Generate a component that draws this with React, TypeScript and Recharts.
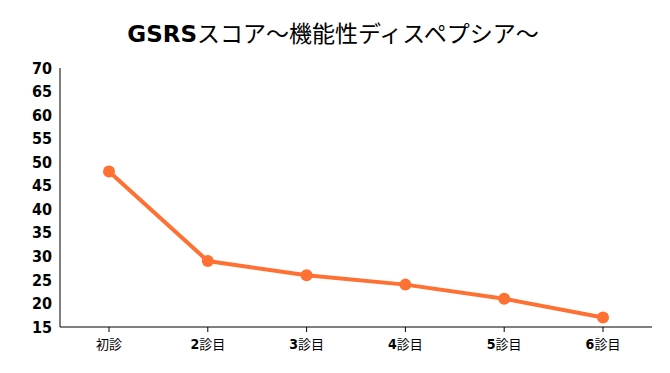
import { LineChart, Line, XAxis, YAxis } from "recharts";

const visits = ["初診", "2診目", "3診目", "4診目", "5診目", "6診目"];
const scores = [48, 29, 26, 24, 21, 17];
const yTicks = [15, 20, 25, 30, 35, 40, 45, 50, 55, 60, 65, 70];

const data = visits.map((name, i) => ({ name, score: scores[i] }));

const narrow = "DejaVu Sans Condensed, Liberation Sans Narrow, sans-serif";

const XTick = (props: any) => {
  const { x, y, payload } = props;
  const label: string = payload.value;
  const m = label.match(/^(\d)(.*)$/);
  return (
    <text x={x} y={y} dy={15} textAnchor="middle" fontSize={13} fill="#000">
      {m ? (
        <>
          <tspan fontFamily={narrow} fontWeight="bold" fontSize={14}>
            {m[1]}
          </tspan>
          <tspan fontFamily="Noto Sans CJK JP">{m[2]}</tspan>
        </>
      ) : (
        <tspan fontFamily="Noto Sans CJK JP">{label}</tspan>
      )}
    </text>
  );
};

export default function App() {
  return (
    <div style={{ position: "absolute", left: 0, top: 0, width: 670, height: 373, background: "#fff" }}>
      <div
        style={{
          position: "absolute",
          top: 17,
          left: 0,
          width: 666,
          textAlign: "center",
          fontSize: 23,
          color: "#000",
          lineHeight: "30px",
        }}
      >
        <span style={{ fontFamily: "DejaVu Sans", fontWeight: 900 }}>GSRS</span>
        <span style={{ fontFamily: "Noto Sans CJK JP" }}>スコア〜機能性ディスペプシア〜</span>
      </div>
      <LineChart
        width={670}
        height={373}
        data={data}
        margin={{ top: 68, right: 18, bottom: 16, left: 0 }}
      >
        <XAxis
          dataKey="name"
          tick={<XTick />}
          tickSize={5}
          tickMargin={2}
          padding={{ left: 49, right: 49 }}
          axisLine={{ stroke: "#000" }}
          tickLine={{ stroke: "#000" }}
          height={30}
        />
        <YAxis
          domain={[15, 70]}
          ticks={yTicks}
          interval={0}
          width={60}
          tickLine={false}
          axisLine={{ stroke: "#000" }}
          tick={{
            fill: "#000",
            fontSize: 16,
            fontWeight: "bold",
            fontFamily: narrow,
          }}
          allowDataOverflow
        />
        <Line
          dataKey="score"
          stroke="#FF7033"
          strokeWidth={4}
          dot={{ r: 6, fill: "#FF7033", stroke: "#FF7033", strokeWidth: 0 }}
          activeDot={false}
          isAnimationActive={false}
        />
      </LineChart>
    </div>
  );
}
